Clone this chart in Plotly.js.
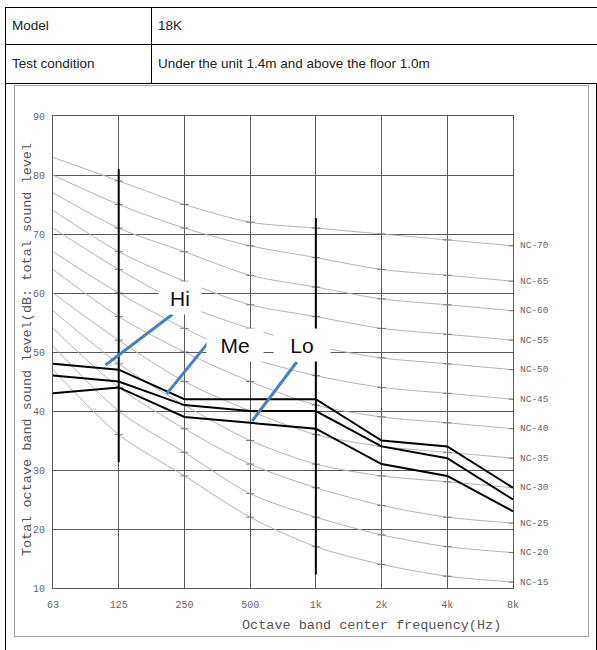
<!DOCTYPE html>
<html>
<head>
<meta charset="utf-8">
<script src="https://cdn.plot.ly/plotly-3.0.1.min.js"></script>
<style>
  html, body { margin:0; padding:0; background:#fff; width:597px; height:650px; overflow:hidden; }
  .hl { position:absolute; background:#000; height:1px; }
  .vl { position:absolute; background:#000; width:1px; }
  .cell { position:absolute; font-family:"Liberation Sans", Arial, sans-serif; font-size:13.5px; color:#222; line-height:16px; }
  #frame { position:absolute; left:14px; top:85px; width:575px; height:552px; border:1px solid #a0a0a0; box-sizing:border-box; }
  #chart { position:absolute; left:0; top:0; width:597px; height:650px; }
</style>
</head>
<body>
<div class="hl" style="left:5px; top:7px; width:592px;"></div>
<div class="hl" style="left:5px; top:44px; width:592px;"></div>
<div class="hl" style="left:5px; top:83px; width:592px;"></div>
<div class="vl" style="left:5px; top:7px; height:643px;"></div>
<div class="vl" style="left:151px; top:7px; height:77px;"></div>
<div class="vl" style="left:596px; top:84px; height:566px;"></div>
<div class="cell" style="left:12px; top:18px;">Model</div>
<div class="cell" style="left:158px; top:18px;">18K</div>
<div class="cell" style="left:12px; top:56px;">Test condition</div>
<div class="cell" style="left:158px; top:56px;">Under the unit 1.4m and above the floor 1.0m</div>
<div id="frame"></div>
<div id="chart"></div>
<script>
// ---- data ----
const freqLabels = ['63', '125', '250', '500', '1k', '2k', '4k', '8k'];

const hiLevels = [48, 47, 42, 42, 42, 35, 34, 27];
const meLevels = [46, 45, 41, 40, 40, 34, 32, 25];
const loLevels = [43, 44, 39, 38, 37, 31, 29, 23];

const ncNames = ['NC-15', 'NC-20', 'NC-25', 'NC-30', 'NC-35', 'NC-40', 'NC-45', 'NC-50', 'NC-55', 'NC-60', 'NC-65', 'NC-70'];
const nc15 = [47, 36, 29, 22, 17, 14, 12, 11];
const nc20 = [51, 40, 33, 26, 22, 19, 17, 16];
const nc25 = [54, 44, 37, 31, 27, 24, 22, 21];
const nc30 = [57, 48, 41, 35, 31, 29, 28, 27];
const nc35 = [60, 52, 45, 40, 36, 34, 33, 32];
const nc40 = [64, 56, 50, 45, 41, 39, 38, 37];
const nc45 = [67, 60, 54, 49, 46, 44, 43, 42];
const nc50 = [71, 64, 58, 54, 51, 49, 48, 47];
const nc55 = [74, 67, 62, 58, 56, 54, 53, 52];
const nc60 = [77, 71, 67, 63, 61, 59, 58, 57];
const nc65 = [80, 75, 71, 68, 66, 64, 63, 62];
const nc70 = [83, 79, 75, 72, 71, 70, 69, 68];
const ncCurves = [nc15, nc20, nc25, nc30, nc35, nc40, nc45, nc50, nc55, nc60, nc65, nc70];

// meter scale bars on the 125 Hz and 1 kHz lines
const scaleBarFreqIdx = [1, 4];
const scaleBarLow = [31.3, 12.3];
const scaleBarHigh = [81, 72.7];

// callouts
const calloutNames = ['Hi', 'Me', 'Lo'];
const calloutLabelX = [1.93, 2.77, 3.79];
const calloutLabelY = [59.2, 51.2, 51.2];
const calloutLineX = [[1.82, 0.80], [2.42, 1.73], [3.71, 3.03]];
const calloutLineY = [[56.4, 47.8], [52.4, 42.9], [48.3, 38.3]];

// ---- build ----
const xIdx = freqLabels.map((_, i) => i);
const traces = [];

ncCurves.forEach((vals, k) => {
  traces.push({
    x: xIdx, y: vals, mode: 'lines+markers', type: 'scatter',
    line: { color: '#b4b4b4', width: 1, shape: 'spline', smoothing: 0.8 },
    marker: { symbol: 'line-ew', size: xIdx.map(i => i === 0 ? 0 : 6), color: '#555', line: { color: '#555', width: 1 } },
    hoverinfo: 'skip', showlegend: false
  });
});

scaleBarFreqIdx.forEach((fi, k) => {
  traces.push({
    x: [fi, fi], y: [scaleBarLow[k], scaleBarHigh[k]], mode: 'lines', type: 'scatter',
    line: { color: '#000', width: 2 }, hoverinfo: 'skip', showlegend: false
  });
});

[hiLevels, meLevels, loLevels].forEach(vals => {
  traces.push({
    x: xIdx, y: vals, mode: 'lines', type: 'scatter',
    line: { color: '#000', width: 2 }, hoverinfo: 'skip', showlegend: false
  });
});

calloutLineX.forEach((xs, k) => {
  traces.push({
    x: xs, y: calloutLineY[k], mode: 'lines', type: 'scatter',
    line: { color: '#4a7ebf', width: 3 }, hoverinfo: 'skip', showlegend: false
  });
});

// small circle mark at 50 on the y axis
traces.push({
  x: [-0.08], y: [49.7], mode: 'markers', type: 'scatter', cliponaxis: false,
  marker: { symbol: 'circle-open', size: 10, color: '#777', line: { width: 1 } },
  hoverinfo: 'skip', showlegend: false
});

const annotations = [];
ncNames.forEach((n, k) => {
  annotations.push({
    x: 7, y: ncCurves[k][7], xref: 'x', yref: 'y', text: n, showarrow: false,
    xanchor: 'left', yanchor: 'middle', xshift: 5,
    font: { family: 'Liberation Mono, monospace', size: 9.5, color: '#666' }
  });
});
calloutNames.forEach((n, k) => {
  annotations.push({
    x: calloutLabelX[k], y: calloutLabelY[k], xref: 'x', yref: 'y', text: n, showarrow: false,
    xanchor: 'center', yanchor: 'middle', bgcolor: '#fff', width: n === 'Hi' ? 40 : 54, height: 30,
    font: { family: 'Liberation Sans, Arial, sans-serif', size: 21, color: '#111' }
  });
});
annotations.push({
  xref: 'paper', yref: 'paper', x: 0.693, y: -0.0805, text: 'Octave band center frequency(Hz)',
  showarrow: false, xanchor: 'center', yanchor: 'middle',
  font: { family: 'Liberation Mono, monospace', size: 13.5, color: '#555' }
});
annotations.push({
  xref: 'paper', yref: 'paper', x: -0.0565, y: 0.504, text: 'Total octave band sound level(dB: total sound level',
  showarrow: false, xanchor: 'center', yanchor: 'middle', textangle: -90,
  font: { family: 'Liberation Mono, monospace', size: 13.5, color: '#555' }
});

const layout = {
  width: 597, height: 650,
  margin: { l: 53, r: 84, t: 116, b: 62, pad: 0 },
  paper_bgcolor: 'rgba(0,0,0,0)', plot_bgcolor: '#fff',
  showlegend: false,
  xaxis: {
    range: [0, 7], tickvals: xIdx, ticktext: freqLabels, showgrid: true,
    gridcolor: '#5a5a5a', gridwidth: 1, showline: true, linecolor: '#5a5a5a', linewidth: 1, mirror: true,
    zeroline: false, ticks: 'outside', ticklen: 7, tickcolor: 'rgba(0,0,0,0)',
    tickfont: { family: 'Liberation Mono, monospace', size: 10, color: '#666' }, automargin: false
  },
  yaxis: {
    range: [10, 90], dtick: 10, tick0: 10, showgrid: true,
    gridcolor: '#5a5a5a', gridwidth: 1, showline: true, linecolor: '#5a5a5a', linewidth: 1, mirror: true,
    zeroline: false, ticks: 'outside', ticklen: 5, tickcolor: 'rgba(0,0,0,0)',
    tickfont: { family: 'Liberation Mono, monospace', size: 10, color: '#666' }, automargin: false
  },
  annotations: annotations
};

Plotly.newPlot('chart', traces, layout, { staticPlot: true, displayModeBar: false });
</script>
</body>
</html>
